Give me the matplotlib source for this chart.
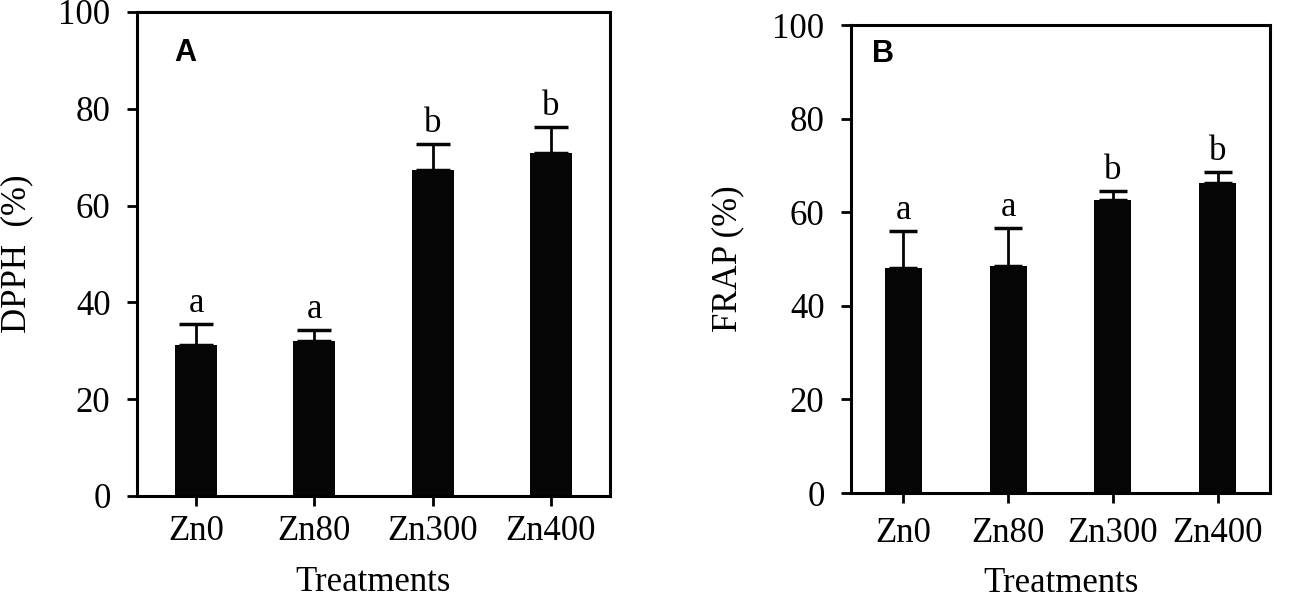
import matplotlib
matplotlib.use("Agg")
import matplotlib.pyplot as plt

treatments = ["Zn0", "Zn80", "Zn300", "Zn400"]
dpph_mean = [31.2, 32.0, 67.4, 70.9]
dpph_err = [4.3, 2.3, 5.3, 5.4]
dpph_letters = ["a", "a", "b", "b"]
frap_mean = [48.1, 48.6, 62.6, 66.3]
frap_err = [7.9, 8.1, 2.0, 2.3]
frap_letters = ["a", "a", "b", "b"]
yticks = [0, 20, 40, 60, 80, 100]

plt.rcParams['font.family'] = ['Liberation Serif', 'DejaVu Serif']

W, H = 1299, 600
fig = plt.figure(figsize=(W/100, H/100), dpi=100)
boxA = (137, 12, 610, 496)   # left, top, right, bottom in pixels
boxB = (851, 25, 1270, 493)

def make_ax(b):
    l, t, r, bt = b
    return fig.add_axes([l/W, 1-bt/H, (r-l)/W, (bt-t)/H])

axA = make_ax(boxA)
axB = make_ax(boxB)

FS = 25

def draw(ax, box, means, errs, letters, ylabel, panel, panel_pos, capsize,
         ylab_x, xlab_base, xtick_pad):
    l, t, r, bt = box
    x = list(range(len(means)))
    ax.bar(x, means, width=0.355, color='#050505', zorder=2)
    ax.errorbar(x, means, yerr=[[0]*len(errs), errs], fmt='none', ecolor='#050505',
                elinewidth=2.0, capsize=capsize, capthick=2.5, zorder=1)
    for xi, m, e, lt in zip(x, means, errs, letters):
        ax.text(xi, m + e + 0.8, lt, ha='center', va='bottom', fontsize=FS)
    ax.set_xlim(-0.5, 3.5)
    ax.set_ylim(0, 100)
    ax.set_yticks(yticks)
    ax.set_xticks(x)
    ax.set_xticklabels(treatments)
    ax.tick_params(axis='both', direction='out', length=7, width=2, labelsize=FS)
    ax.tick_params(axis='y', pad=12)
    ax.tick_params(axis='x', pad=xtick_pad)
    for s in ax.spines.values():
        s.set_linewidth(2.2)
    ax.set_ylabel(ylabel, fontsize=FS)
    ax.yaxis.set_label_coords((ylab_x - l)/(r - l), 0.5)
    ax.set_xlabel("Treatments", fontsize=FS)
    ax.xaxis.label.set_verticalalignment('baseline')
    ax.xaxis.set_label_coords(0.5, (bt - xlab_base)/(bt - t))
    ax.text(panel_pos[0], panel_pos[1], panel, transform=ax.transAxes, fontsize=22,
            fontweight='bold', family='Liberation Sans', ha='center', va='center')

draw(axA, boxA, dpph_mean, dpph_err, dpph_letters, "DPPH  (%)", "A", (0.101, 0.915), 12,
     33, 591, 7)
draw(axB, boxB, frap_mean, frap_err, frap_letters, "FRAP (%)", "B", (0.077, 0.938), 10,
     744, 592, 10)

fig.savefig("out.png", dpi=100)
